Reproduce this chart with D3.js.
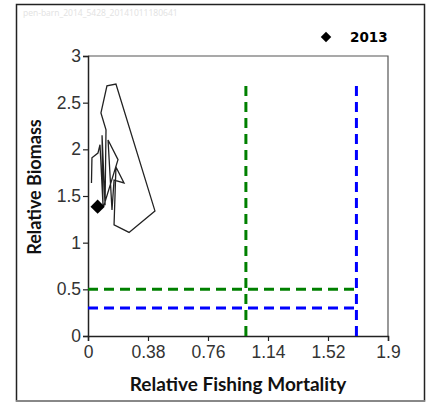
<!DOCTYPE html>
<html>
<head>
<meta charset="utf-8">
<script src="https://cdn.jsdelivr.net/npm/d3@7"></script>
<style>
  body { margin: 0; background: #fff; }
  svg { display: block; }
</style>
</head>
<body>
<div id="chart"></div>
<script>
// trajectory of relative F vs relative biomass, last point = 2013
let years = [1992, 1993, 1994, 1995, 1996, 1997, 1998, 1999, 2000, 2001, 2002,
  2003, 2004, 2005, 2006, 2007, 2008, 2009, 2010, 2011, 2012, 2013];
let fishing = [0.022, 0.025, 0.063, 0.076, 0.095, 0.089, 0.108, 0.114, 0.082, 0.120, 0.177,
  0.424, 0.260, 0.165, 0.177, 0.228, 0.165, 0.152, 0.127, 0.190, 0.101, 0.061];
let biomass = [1.64, 1.91, 1.96, 2.05, 1.40, 2.15, 1.40, 2.21, 2.39, 2.68, 2.70,
  1.34, 1.11, 1.19, 1.81, 1.64, 1.67, 1.35, 2.10, 1.89, 1.40, 1.385];

let xTicks = [0, 0.38, 0.76, 1.14, 1.52, 1.9];
let yTicks = [0, 0.5, 1, 1.5, 2, 2.5, 3];

// reference lines: [x1, y1, x2, y2]
let refLines = [
  { name: "Fmsy", color: "#008000", seg: [1.0, 0, 1.0, 2.7] },
  { name: "Flim", color: "#0000ff", seg: [1.7, 0, 1.7, 2.7] },
  { name: "Bmsy", color: "#008000", seg: [0, 0.5, 1.7, 0.5] },
  { name: "Blim", color: "#0000ff", seg: [0, 0.3, 1.7, 0.3] }
];

let margin = { left: 88, right: 39, top: 56, bottom: 67 };
let width = 427, height = 403;
let chart_width = width - margin.left - margin.right;
let chart_height = height - margin.top - margin.bottom;

let svg = d3.select("#chart").append("svg")
  .attr("width", width)
  .attr("height", height);

// outer frame
svg.append("rect")
  .attr("x", 16.5).attr("y", 4.5)
  .attr("width", 408).attr("height", 396.5)
  .attr("fill", "none").attr("stroke", "#222").attr("stroke-width", 1.5);
svg.append("line")
  .attr("x1", 16).attr("x2", 425).attr("y1", 401).attr("y2", 401)
  .attr("stroke", "#999").attr("stroke-width", 1.5);

svg.append("text")
  .attr("x", 23).attr("y", 16)
  .attr("font-family", "Open Sans, sans-serif").attr("font-size", 8.5)
  .attr("fill", "#e2e2e2")
  .text("pen-barn_2014_5428_20141011180641");

let g = svg.append("g")
  .attr("transform", `translate(${margin.left},${margin.top})`);

let x = d3.scaleLinear().domain([0, 1.9]).range([0, chart_width]);
let y = d3.scaleLinear().domain([0, 3]).range([chart_height, 0]);

// plot box top/right
g.append("path")
  .attr("d", `M0,0H${chart_width}V${chart_height}`)
  .attr("fill", "none").attr("stroke", "#555").attr("stroke-width", 1.2);

let xAxis = g.append("g")
  .attr("transform", `translate(0,${chart_height})`)
  .call(d3.axisBottom(x).tickValues(xTicks).tickSize(5).tickPadding(5)
    .tickFormat(d => String(d)));
let yAxis = g.append("g")
  .call(d3.axisLeft(y).tickValues(yTicks).tickSize(5).tickPadding(2)
    .tickFormat(d => String(d)));

[xAxis, yAxis].forEach(a => {
  a.select(".domain").attr("stroke", "#222").attr("stroke-width", 1.5);
  a.selectAll(".tick line").attr("stroke", "#222").attr("stroke-width", 1.2);
  a.selectAll("text")
    .attr("font-family", "Liberation Sans, Arial, sans-serif")
    .attr("font-size", 17.5).attr("fill", "#333");
});

// reference lines
g.selectAll(".ref").data(refLines).enter().append("line")
  .attr("class", "ref")
  .attr("x1", d => x(d.seg[0])).attr("y1", d => y(d.seg[1]))
  .attr("x2", d => x(d.seg[2])).attr("y2", d => y(d.seg[3]))
  .attr("stroke", d => d.color)
  .attr("stroke-width", 3)
  .attr("stroke-dasharray", "10,6");

// trajectory
let pts = years.map((yr, i) => ({ year: yr, f: fishing[i], b: biomass[i] }));
g.append("path")
  .datum(pts)
  .attr("fill", "none")
  .attr("stroke", "#222")
  .attr("stroke-width", 1.3)
  .attr("d", d3.line().x(d => x(d.f)).y(d => y(d.b)));

let last = pts[pts.length - 1];
g.append("path")
  .attr("d", d3.symbol().type(d3.symbolDiamond2).size(130))
  .attr("transform", `translate(${x(last.f)},${y(last.b)})`)
  .attr("fill", "#000");

// legend
svg.append("path")
  .attr("d", d3.symbol().type(d3.symbolDiamond2).size(70))
  .attr("transform", "translate(326,37)")
  .attr("fill", "#000");
svg.append("text")
  .attr("x", 350).attr("y", 42)
  .attr("font-family", "DejaVu Sans, sans-serif")
  .attr("font-weight", "bold").attr("font-size", 13.5)
  .text(last.year);

// axis titles
svg.append("text")
  .attr("x", margin.left + chart_width / 2).attr("y", 391)
  .attr("text-anchor", "middle")
  .attr("font-family", "Lato, sans-serif").attr("font-weight", "bold")
  .attr("font-size", 19).attr("fill", "#111")
  .text("Relative Fishing Mortality");
svg.append("text")
  .attr("transform", "translate(41,187) rotate(-90)")
  .attr("text-anchor", "middle")
  .attr("font-family", "Lato, sans-serif").attr("font-weight", "bold")
  .attr("font-size", 18).attr("fill", "#111")
  .text("Relative Biomass");
</script>
</body>
</html>
